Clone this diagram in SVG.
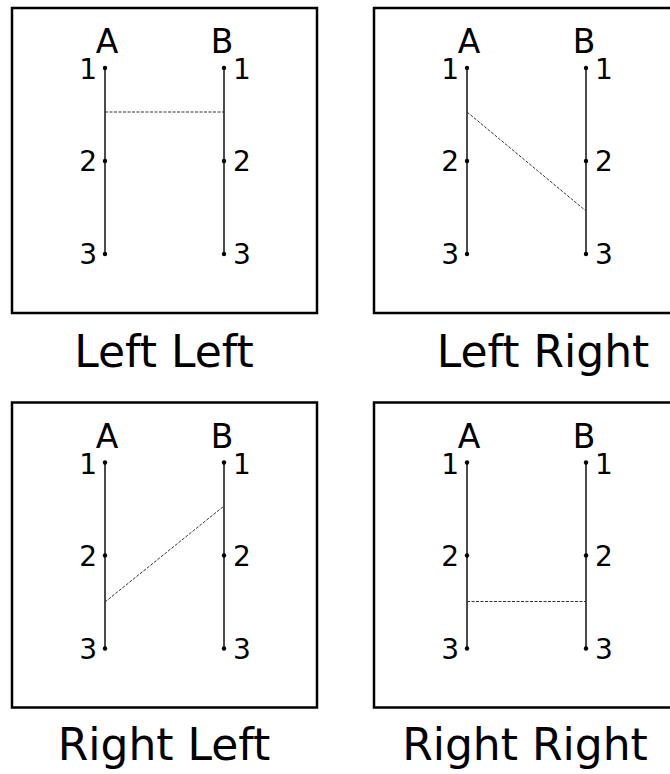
<svg xmlns="http://www.w3.org/2000/svg" width="670" height="774" viewBox="0 0 670 774">
<defs>
<style>
.box{fill:none;stroke:#000;stroke-width:2.5}
.axis{stroke:#111;stroke-width:1.5}
.dot{fill:#000}
.conn{stroke:#333;stroke-width:1;stroke-dasharray:3,1.5;fill:none}
.lbl{font-family:"DejaVu Sans",sans-serif;font-size:33px;fill:#000;text-anchor:middle}
.num{font-family:"DejaVu Sans",sans-serif;font-size:28px;fill:#000}
.cap{font-family:"DejaVu Sans",sans-serif;font-size:44px;fill:#000;text-anchor:middle}
</style>
<g id="pair">
<line class="axis" x1="105" y1="68" x2="105" y2="254"/>
<line class="axis" x1="224" y1="68" x2="224" y2="254"/>
<circle class="dot" cx="105" cy="68" r="2.2"/>
<circle class="dot" cx="105" cy="161" r="2.2"/>
<circle class="dot" cx="105" cy="254" r="2.2"/>
<circle class="dot" cx="224" cy="68" r="2.2"/>
<circle class="dot" cx="224" cy="161" r="2.2"/>
<circle class="dot" cx="224" cy="254" r="2.2"/>
<text class="lbl" x="107" y="53">A</text>
<text class="lbl" x="222" y="53">B</text>
<text class="num" x="97" y="79" text-anchor="end">1</text>
<text class="num" x="97" y="171" text-anchor="end">2</text>
<text class="num" x="97" y="264" text-anchor="end">3</text>
<text class="num" x="233" y="79">1</text>
<text class="num" x="233" y="171">2</text>
<text class="num" x="233" y="264">3</text>
</g>
</defs>
<g id="left-left">
<rect class="box" x="12" y="8" width="305" height="305"/>
<use href="#pair"/>
<text class="cap" x="164" y="367">Left Left</text>
</g>
<g id="left-right">
<rect class="box" x="374" y="8" width="305" height="305"/>
<use href="#pair" transform="translate(362,0)"/>
<text class="cap" x="543" y="367">Left Right</text>
</g>
<g id="right-left">
<rect class="box" x="12" y="402.5" width="305" height="305"/>
<use href="#pair" transform="translate(0,394.5)"/>
<text class="cap" x="164" y="760">Right Left</text>
</g>
<g id="right-right">
<rect class="box" x="374" y="402.5" width="305" height="305"/>
<use href="#pair" transform="translate(362,394.5)"/>
<text class="cap" x="525" y="760">Right Right</text>
</g>
<g id="connectors">
<line class="conn" x1="105" y1="112" x2="224" y2="112"/>
<line class="conn" x1="467" y1="112" x2="586" y2="211"/>
<line class="conn" x1="105" y1="602" x2="224" y2="506"/>
<line class="conn" x1="467" y1="601.5" x2="586" y2="601.5"/>
</g>
</svg>
